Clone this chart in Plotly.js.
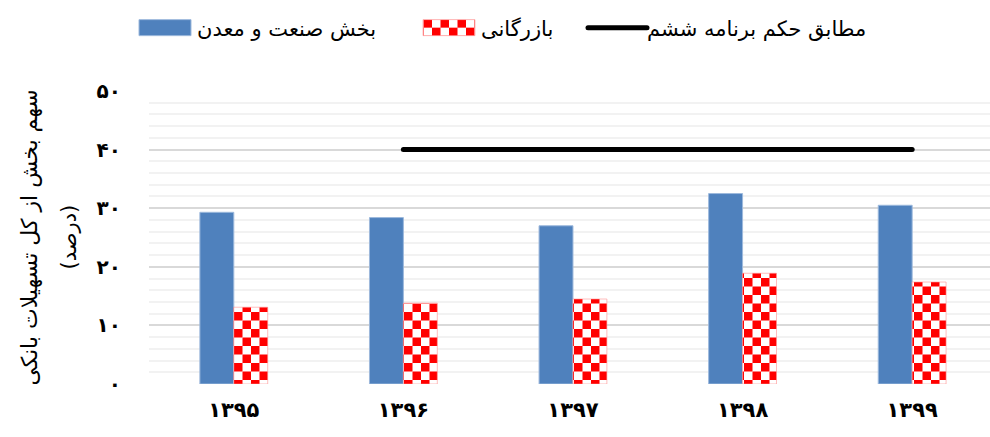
<!DOCTYPE html>
<html><head><meta charset="utf-8">
<script src="https://cdn.plot.ly/plotly-3.0.1.min.js"></script>
<style>html,body{margin:0;padding:0;background:#fff;overflow:hidden}</style>
</head><body>
<div id="chart" style="width:990px;height:437px"></div>
<script>
const years = ['۱۳۹۵','۱۳۹۶','۱۳۹۷','۱۳۹۸','۱۳۹۹'];
const industryMining = [29.3, 28.4, 27.0, 32.5, 30.5];
const commerce = [13.1, 13.8, 14.5, 18.9, 17.4];
const sixthPlanTarget = [null, 40, 40, 40, 40];
const seriesNames = ['بخش صنعت و معدن', 'بازرگانی', 'مطابق حکم برنامه ششم'];
const yTickVals = [0, 10, 20, 30, 40, 50];
const yTickText = ['۰', '۱۰', '۲۰', '۳۰', '۴۰', '۵۰'];
const yTitleLines = ['سهم بخش از کل تسهیلات بانکی', '(درصد)'];

const FONT = 'DejaVu Sans, Noto Sans, sans-serif';
const L = 149, PW = 841;

const data = [
  { type: 'bar', x: years, y: industryMining, name: seriesNames[0], legend: 'legend',
    marker: { color: '#4F81BD', line: { color: '#9DB9DC', width: 1 } } },
  { type: 'bar', x: years, y: commerce, name: seriesNames[1], legend: 'legend2',
    marker: { color: '#ffffff', line: { color: '#ff9090', width: 0.6 },
      pattern: { shape: 'x', fgcolor: '#ff0000', bgcolor: '#ffffff', size: 17, solidity: 0.5, fillmode: 'replace' } } },
  { type: 'scatter', mode: 'lines', x: years, y: sixthPlanTarget, name: seriesNames[2], legend: 'legend3',
    line: { color: '#000000', width: 5 }, connectgaps: false }
];

const legendBase = { orientation: 'h', xref: 'container', yref: 'container', xanchor: 'left', yanchor: 'middle',
  y: 1 - 28 / 437, itemwidth: 54, bgcolor: 'rgba(0,0,0,0)', borderwidth: 0,
  font: { family: FONT, size: 21, color: '#000' } };

const layout = {
  width: 990, height: 437,
  margin: { l: L, r: 0, t: 91, b: 53 },
  paper_bgcolor: '#fff', plot_bgcolor: '#fff',
  barmode: 'group', bargap: 0.6, bargroupgap: 0,
  showlegend: true,
  legend: Object.assign({}, legendBase, { x: 133 / 990 }),
  legend2: Object.assign({}, legendBase, { x: 417 / 990 }),
  legend3: Object.assign({}, legendBase, { x: 583 / 990 }),
  xaxis: { type: 'category', range: [-0.5, 4.459], showgrid: false, zeroline: false, showline: false,
    ticks: '', ticklabelstandoff: 11, tickfont: { family: FONT, size: 21, color: '#000', weight: 'bold' } },
  yaxis: { range: [0, 50], tickvals: yTickVals, ticktext: yTickText, showgrid: true, gridcolor: '#d9d9d9', gridwidth: 2,
    zeroline: false, showline: false, ticks: '', ticklabelstandoff: 27,
    tickfont: { family: FONT, size: 20, color: '#000', weight: 'bold' },
    minor: { dtick: 2, showgrid: true, gridcolor: '#f2f2f2', gridwidth: 2 } },
  annotations: [
    { xref: 'paper', yref: 'paper', x: (29 - L) / PW, y: 0.5, xanchor: 'center', yanchor: 'middle', textangle: -90,
      showarrow: false, text: yTitleLines[0], font: { family: FONT, size: 22, color: '#000' } },
    { xref: 'paper', yref: 'paper', x: (68 - L) / PW, y: 0.5, xanchor: 'center', yanchor: 'middle', textangle: -90,
      showarrow: false, text: yTitleLines[1], font: { family: FONT, size: 21, color: '#000' } }
  ]
};

Plotly.newPlot('chart', data, layout, { staticPlot: true, displayModeBar: false }).then(function (gd) {
  const NS = 'http://www.w3.org/2000/svg';
  gd.querySelectorAll('pattern').forEach(function (p) {
    p.setAttribute('width', 17); p.setAttribute('height', 17);
    p.removeAttribute('patternTransform');
    while (p.firstChild) p.removeChild(p.firstChild);
    [[0, 0, 17, 17, '#ffffff'], [0, 0, 8.5, 8.5, '#ff0000'], [8.5, 8.5, 8.5, 8.5, '#ff0000']].forEach(function (a) {
      const r = document.createElementNS(NS, 'rect');
      r.setAttribute('x', a[0]); r.setAttribute('y', a[1]); r.setAttribute('width', a[2]); r.setAttribute('height', a[3]);
      r.setAttribute('fill', a[4]);
      p.appendChild(r);
    });
  });
  gd.querySelectorAll('g.legendpoints path').forEach(function (pa) {
    const tr = pa.closest('g.traces');
    const d = tr && tr.__data__;
    const t = d && d[0] && d[0].trace;
    if (t && t.type === 'bar') pa.setAttribute('d', 'M26,8H-26V-8H26Z');
  });
  gd.querySelectorAll('g.legendlines path').forEach(function (pa) {
    pa.setAttribute('d', 'M5,0h59'); pa.style.strokeLinecap = 'round';
  });
  gd.querySelectorAll('g.scatterlayer path.js-line').forEach(function (pa) { pa.style.strokeLinecap = 'round'; });
});
</script>
</body></html>
